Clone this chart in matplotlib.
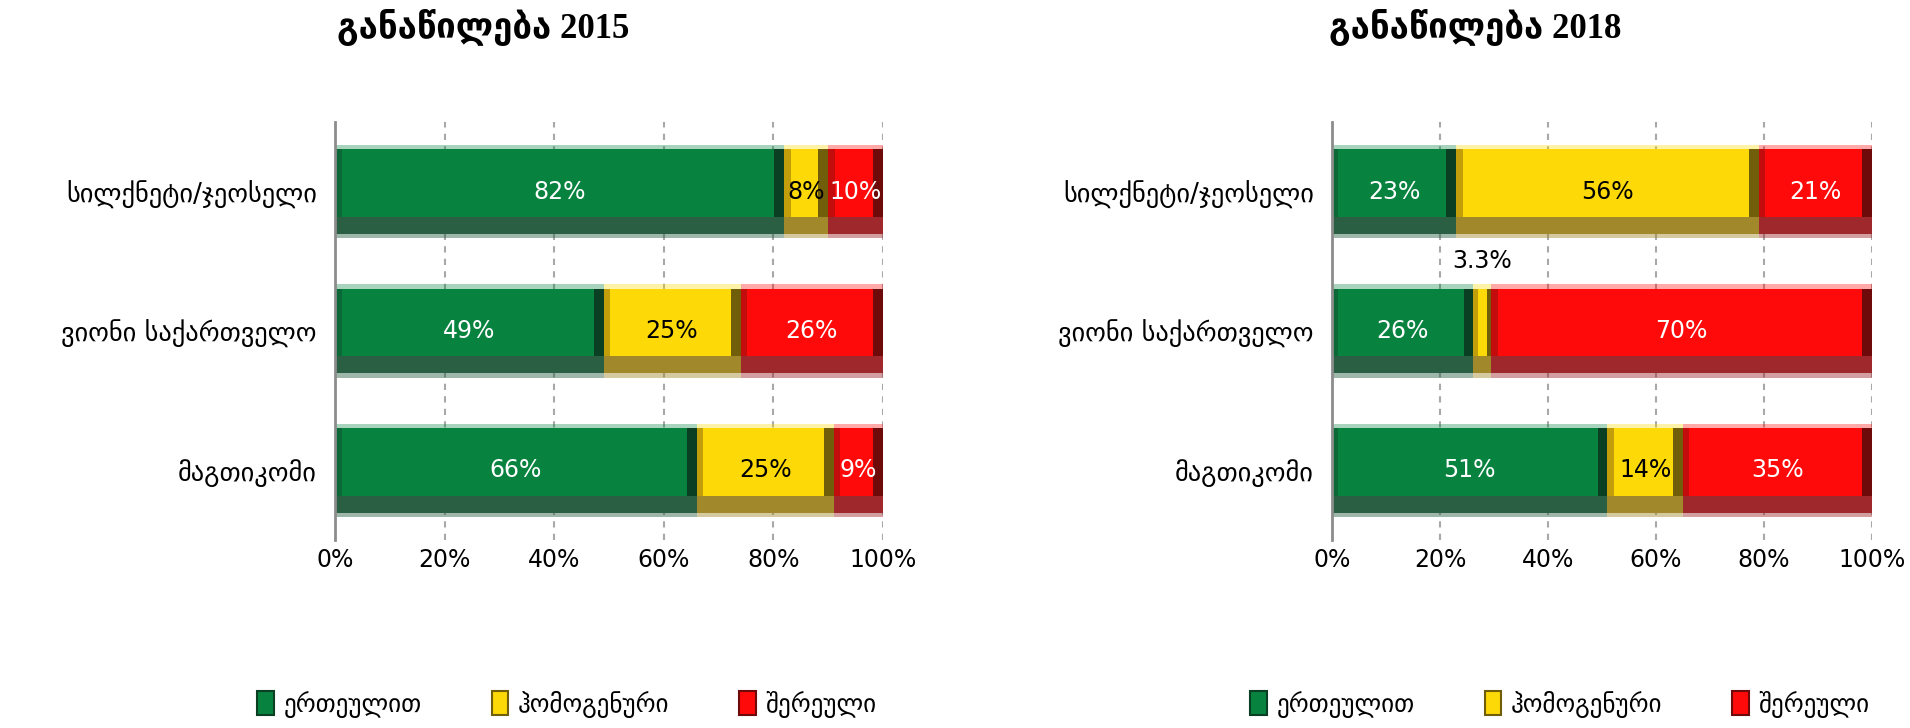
import numpy as np
from matplotlib import pyplot as plt
from matplotlib.patches import Patch

plt.rcParams['font.family'] = ['DejaVu Sans']

companies = ['სილქნეტი/ჯეოსელი', 'ვიონი საქართველო', 'მაგთიკომი']
series_names = ['ერთეულით', 'ჰომოგენური', 'შერეული']

units_2015 = [82, 49, 66]
homogeneous_2015 = [8, 25, 25]
mixed_2015 = [10, 26, 9]

units_2018 = [23, 26, 51]
homogeneous_2018 = [56, 3.3, 14]
mixed_2018 = [21, 70, 35]

x_ticks = [0, 20, 40, 60, 80, 100]

# main / left edge / right edge / bottom band
green = ['#08833f', '#0c6836', '#0a3f23', '#2a5f44']
gold = ['#fdd908', '#c29e0b', '#715e0a', '#a1882a']
red = ['#ff0a0a', '#c30c0c', '#6e0a0a', '#9e282b']
palette = [green, gold, red]
text_colors = ['white', 'black', 'white']

bar_h = 0.61


def panel(ax, series):
    data = np.array(series, dtype=float)
    shares = data / data.sum(axis=0) * 100  # 100% stacked
    y = np.arange(len(companies))
    left = np.zeros(len(companies))
    for k in range(len(series)):
        w = shares[k]
        main, edge_l, edge_r, bottom = palette[k]
        ax.barh(y, w, left=left, height=bar_h, color=main, zorder=3)
        # fake bevel like the excel 3d look
        sl = np.minimum(1.2, w / 4)
        sr = np.minimum(1.8, w / 4)
        ax.barh(y, sl, left=left, height=bar_h, color=edge_l, zorder=4)
        ax.barh(y, sr, left=left + w - sr, height=bar_h, color=edge_r, zorder=4)
        ax.barh(y + bar_h * 0.5 - bar_h * 0.1, w, left=left, height=bar_h * 0.2,
                color=bottom, zorder=5)
        ax.barh(y - bar_h * 0.5 - 0.015, w, left=left, height=0.03, color=main,
                alpha=0.35, zorder=3, linewidth=0)
        ax.barh(y + bar_h * 0.5 + 0.015, w, left=left, height=0.03, color=bottom,
                alpha=0.45, zorder=3, linewidth=0)
        for i in range(len(companies)):
            lab = f'{data[k][i]:g}%'
            if w[i] < 5:
                ax.text(left[i] + w[i] / 2, y[i] - bar_h / 2 - 0.2, lab, ha='center', va='center',
                        color='black', fontsize=17, zorder=6)
            else:
                ax.text(left[i] + w[i] / 2, y[i], lab, ha='center', va='center',
                        color=text_colors[k], fontsize=17, zorder=6)
        left = left + w

    ax.set_xlim(0, 100)
    ax.set_ylim(2.5, -0.5)
    ax.set_yticks(y)
    ax.set_yticklabels(companies, fontsize=19)
    ax.set_xticks(x_ticks)
    ax.set_xticklabels([f'{t}%' for t in x_ticks], fontsize=17)
    ax.tick_params(length=0)
    ax.tick_params(axis='y', pad=13)
    ax.tick_params(axis='x', pad=6)
    for s in ['top', 'right', 'bottom']:
        ax.spines[s].set_visible(False)
    ax.spines['left'].set_color('#8c8c8c')
    ax.spines['left'].set_linewidth(2)
    ax.spines['left'].set_zorder(7)
    ax.grid(axis='x', color='#a8a8a8', linestyle=(0, (3, 3)), linewidth=1.5, zorder=0)


fig = plt.figure(figsize=(19.1, 7.28), dpi=100)
ax1 = fig.add_axes([335 / 1910, 1 - 540 / 728, 548 / 1910, 418 / 728])
ax2 = fig.add_axes([1332 / 1910, 1 - 540 / 728, 540 / 1910, 418 / 728])

panel(ax1, [units_2015, homogeneous_2015, mixed_2015])
panel(ax2, [units_2018, homogeneous_2018, mixed_2018])

title_font = ['Liberation Serif', 'DejaVu Sans']
fig.text(483 / 1910, 1 - 27 / 728, 'განაწილება 2015', ha='center', va='center',
         fontsize=25, fontweight='bold', family=title_font)
fig.text(1475 / 1910, 1 - 27 / 728, 'განაწილება 2018', ha='center', va='center',
         fontsize=25, fontweight='bold', family=title_font)

handles = [Patch(facecolor=p[0], edgecolor=p[2], linewidth=1.5) for p in palette]
for cx in [567, 1560]:
    fig.legend(handles, series_names, loc='center', bbox_to_anchor=(cx / 1910, 1 - 704 / 728),
               ncol=3, frameon=False, fontsize=18, handlelength=0.65, handleheight=1.1,
               columnspacing=2.8, handletextpad=0.4)

fig.savefig('out.png', dpi=100)
